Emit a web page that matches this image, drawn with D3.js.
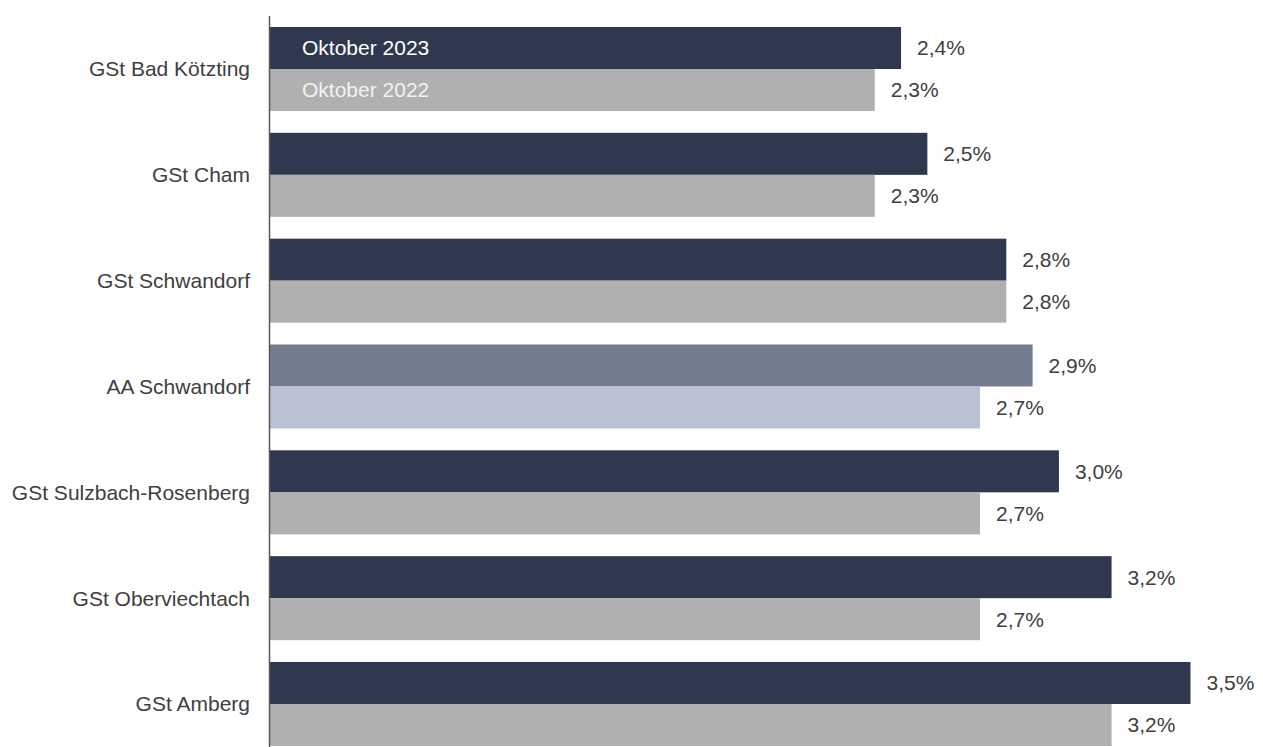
<!DOCTYPE html>
<html><head><meta charset="utf-8">
<script src="https://cdn.jsdelivr.net/npm/d3@7"></script>
<style>body{margin:0;background:#fff}svg{display:block}</style>
</head><body>
<script>
const categories = ["GSt Bad Kötzting","GSt Cham","GSt Schwandorf","AA Schwandorf","GSt Sulzbach-Rosenberg","GSt Oberviechtach","GSt Amberg"];
const values2023 = [2.4, 2.5, 2.8, 2.9, 3.0, 3.2, 3.5];
const values2022 = [2.3, 2.3, 2.8, 2.7, 2.7, 2.7, 3.2];
const seriesNames = ["Oktober 2023", "Oktober 2022"];
const highlight = "AA Schwandorf";

const W = 1263, H = 747;
const svg = d3.select("body").append("svg").attr("width", W).attr("height", H);
const x0 = 269.5;
const x = d3.scaleLinear().domain([0, 3.5]).range([x0, x0 + 921]);
const y = d3.scaleBand().domain(categories).range([27, 746]).paddingInner(0.206).paddingOuter(0);
const sub = d3.scaleBand().domain([0,1]).range([0, y.bandwidth()]);
const fmt = v => d3.format(".1f")(v).replace(".", ",") + "%";
const colors = {
  normal: ["#30384f", "#b0b0b0"],
  hl: ["#737c8f", "#b9c1d3"]
};
const font = "'Liberation Sans', Arial, sans-serif";
const fs = 21;

categories.forEach((c, i) => {
  const vals = [values2023[i], values2022[i]];
  const cols = c === highlight ? colors.hl : colors.normal;
  vals.forEach((v, k) => {
    const yy = y(c) + sub(k);
    svg.append("rect").attr("x", x(0)).attr("y", yy).attr("width", x(v) - x(0))
      .attr("height", sub.bandwidth()).attr("fill", cols[k]);
    svg.append("text").attr("x", x(v) + 16).attr("y", yy + sub.bandwidth()/2)
      .attr("dy", "0.35em").attr("font-family", font).attr("font-size", fs)
      .attr("fill", "#404040").text(fmt(v));
  });
  svg.append("text").attr("x", 250).attr("y", y(c) + y.bandwidth()/2)
    .attr("dy", "0.35em").attr("text-anchor", "end").attr("font-family", font)
    .attr("font-size", fs).attr("fill", "#404040").text(c);
});

// series labels inside first group's bars
seriesNames.forEach((s, k) => {
  svg.append("text").attr("x", 302).attr("y", y(categories[0]) + sub(k) + sub.bandwidth()/2)
    .attr("dy", "0.35em").attr("font-family", font).attr("font-size", fs)
    .attr("fill", k === 0 ? "#ffffff" : "#f2f2f2").text(s);
});

svg.append("line").attr("x1", x0).attr("x2", x0).attr("y1", 16).attr("y2", 747)
  .attr("stroke", "#595959").attr("stroke-width", 1.5);
</script>
</body></html>
